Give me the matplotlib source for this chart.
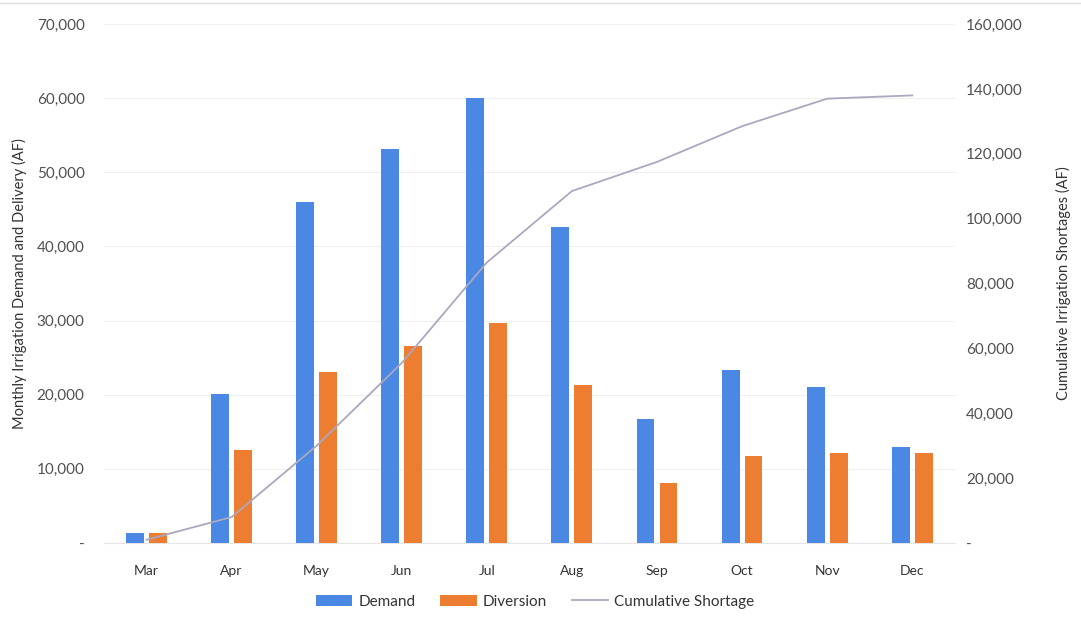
import matplotlib.pyplot as plt
import numpy as np
from matplotlib.ticker import FuncFormatter

plt.rcParams['font.family'] = ['Lato', 'DejaVu Sans']

months = ['Mar', 'Apr', 'May', 'Jun', 'Jul', 'Aug', 'Sep', 'Oct', 'Nov', 'Dec']
demand = [1300, 20100, 46000, 53100, 60000, 42600, 16700, 23300, 21000, 13000]
diversion = [1400, 12500, 23000, 26600, 29700, 21300, 8100, 11700, 12100, 12200]
cum_shortage = [1000, 8000, 30000, 55500, 86500, 108500, 117500, 128500, 137000, 138000]

blue = '#4a88e4'
orange = '#ed7d31'
line_col = '#aba7bf'
txt = '#505050'

fig = plt.figure(figsize=(10.81, 6.23), dpi=100)
ax = fig.add_axes([0.0962, 0.1284, 0.787, 0.833])
ax2 = ax.twinx()

x = np.arange(len(months))
w = 0.21
ax.bar(x - 0.135, demand, w, color=blue, label='Demand', zorder=3)
ax.bar(x + 0.135, diversion, w, color=orange, label='Diversion', zorder=3)
ax2.plot(x, cum_shortage, color=line_col, lw=1.3, label='Cumulative Shortage', zorder=4)

ax.set_xlim(-0.5, 9.5)
ax.set_ylim(0, 70000)
ax2.set_ylim(0, 160000)
ax.set_yticks(np.arange(0, 70001, 10000))
ax2.set_yticks(np.arange(0, 160001, 20000))

def acct(v, pos):
    return '-' if v == 0 else f'{int(v):,}'

ax.yaxis.set_major_formatter(FuncFormatter(acct))
ax2.yaxis.set_major_formatter(FuncFormatter(acct))

ax.set_xticks(x)
ax.set_xticklabels(months, fontsize=10, color='#333333')
ax.tick_params(axis='x', length=0, pad=16)
ax.tick_params(axis='y', length=0, pad=14, labelsize=11, labelcolor=txt)
ax2.tick_params(axis='y', length=0, pad=8, labelsize=11, labelcolor=txt)

ax.grid(axis='y', color='#f0f0f0', lw=0.8, zorder=0)
for a in (ax, ax2):
    for s in a.spines.values():
        s.set_visible(False)
ax.spines['bottom'].set_visible(True)
ax.spines['bottom'].set_color('#e4e4e4')

ax.set_ylabel('Monthly Irrigation Demand and Delivery (AF)', fontsize=10.5, color='#333333', labelpad=7)
ax2.set_ylabel('Cumulative Irrigation Shortages (AF)', fontsize=10.5, color='#333333', labelpad=24)

h1, l1 = ax.get_legend_handles_labels()
h2, l2 = ax2.get_legend_handles_labels()
fig.legend(h1 + h2, l1 + l2, loc='center', bbox_to_anchor=(0.495, 0.034), ncol=3,
           frameon=False, fontsize=11, handlelength=2.4, handleheight=0.8,
           columnspacing=1.6, handletextpad=0.4, labelcolor='#333333')

# thin rule along the top edge
fig.add_artist(plt.Line2D([0, 1], [0.995, 0.995], color='#dddddd', lw=1))

fig.savefig('out.png', dpi=100)
